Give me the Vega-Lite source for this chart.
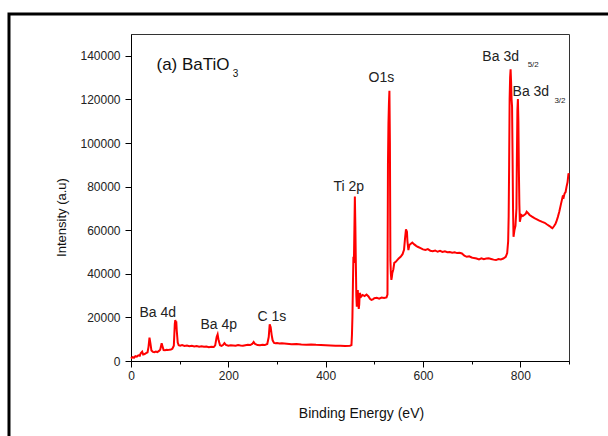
{
  "$schema": "https://vega.github.io/schema/vega-lite/v6.json",
  "width": 438,
  "height": 327,
  "autosize": {"type": "none"},
  "padding": {"left": 131, "top": 34, "right": 39, "bottom": 75},
  "background": "white",
  "config": {
    "font": "Liberation Sans",
    "view": {"stroke": "#333333", "strokeWidth": 1}
  },
  "datasets": {
    "spectrum": [
      {"energy": 0, "intensity": 1200}, {"energy": 3, "intensity": 1800}, {"energy": 6, "intensity": 1500},
      {"energy": 9, "intensity": 2200}, {"energy": 12, "intensity": 2000}, {"energy": 15, "intensity": 2600},
      {"energy": 18, "intensity": 2400}, {"energy": 20, "intensity": 3500}, {"energy": 23, "intensity": 4300},
      {"energy": 25, "intensity": 3000}, {"energy": 28, "intensity": 3200}, {"energy": 31, "intensity": 3600},
      {"energy": 34, "intensity": 4000}, {"energy": 36, "intensity": 6500}, {"energy": 38, "intensity": 10700},
      {"energy": 40, "intensity": 8000}, {"energy": 42, "intensity": 4800}, {"energy": 45, "intensity": 4200},
      {"energy": 48, "intensity": 4000}, {"energy": 51, "intensity": 4300}, {"energy": 54, "intensity": 4100},
      {"energy": 57, "intensity": 4500}, {"energy": 60, "intensity": 5200}, {"energy": 63, "intensity": 8100},
      {"energy": 65, "intensity": 6500}, {"energy": 67, "intensity": 5000}, {"energy": 70, "intensity": 4900},
      {"energy": 73, "intensity": 5100}, {"energy": 76, "intensity": 5000}, {"energy": 79, "intensity": 5200},
      {"energy": 82, "intensity": 5300}, {"energy": 85, "intensity": 5600}, {"energy": 88, "intensity": 7000},
      {"energy": 90, "intensity": 17000}, {"energy": 91, "intensity": 18800}, {"energy": 92, "intensity": 17500},
      {"energy": 93, "intensity": 18200}, {"energy": 94, "intensity": 14000}, {"energy": 96, "intensity": 8500},
      {"energy": 98, "intensity": 7200}, {"energy": 101, "intensity": 7000}, {"energy": 105, "intensity": 7300},
      {"energy": 110, "intensity": 6900}, {"energy": 115, "intensity": 7100}, {"energy": 120, "intensity": 6800},
      {"energy": 125, "intensity": 7000}, {"energy": 130, "intensity": 6700}, {"energy": 135, "intensity": 6900},
      {"energy": 140, "intensity": 6600}, {"energy": 145, "intensity": 6800}, {"energy": 150, "intensity": 6500},
      {"energy": 155, "intensity": 6600}, {"energy": 160, "intensity": 6300}, {"energy": 165, "intensity": 6500},
      {"energy": 170, "intensity": 6400}, {"energy": 173, "intensity": 7200}, {"energy": 176, "intensity": 11000},
      {"energy": 178, "intensity": 12200}, {"energy": 180, "intensity": 9500}, {"energy": 183, "intensity": 7200},
      {"energy": 186, "intensity": 6900}, {"energy": 189, "intensity": 7300}, {"energy": 192, "intensity": 8200},
      {"energy": 195, "intensity": 7400}, {"energy": 200, "intensity": 7000}, {"energy": 205, "intensity": 7200},
      {"energy": 210, "intensity": 7100}, {"energy": 215, "intensity": 7000}, {"energy": 220, "intensity": 7300},
      {"energy": 225, "intensity": 7100}, {"energy": 230, "intensity": 7000}, {"energy": 235, "intensity": 7200},
      {"energy": 240, "intensity": 7400}, {"energy": 245, "intensity": 7300}, {"energy": 249, "intensity": 7800},
      {"energy": 252, "intensity": 8700}, {"energy": 255, "intensity": 7800}, {"energy": 260, "intensity": 7300},
      {"energy": 265, "intensity": 7200}, {"energy": 270, "intensity": 7400}, {"energy": 275, "intensity": 7300},
      {"energy": 280, "intensity": 7800}, {"energy": 283, "intensity": 11000}, {"energy": 285, "intensity": 16800},
      {"energy": 287, "intensity": 15500}, {"energy": 289, "intensity": 12000}, {"energy": 291, "intensity": 9500},
      {"energy": 294, "intensity": 8300}, {"energy": 297, "intensity": 8100}, {"energy": 300, "intensity": 8200},
      {"energy": 305, "intensity": 8000}, {"energy": 310, "intensity": 8100}, {"energy": 320, "intensity": 7900},
      {"energy": 330, "intensity": 7700}, {"energy": 340, "intensity": 7800}, {"energy": 350, "intensity": 7600},
      {"energy": 360, "intensity": 7500}, {"energy": 370, "intensity": 7600}, {"energy": 380, "intensity": 7400},
      {"energy": 390, "intensity": 7300}, {"energy": 400, "intensity": 7200}, {"energy": 410, "intensity": 7100},
      {"energy": 420, "intensity": 7000}, {"energy": 430, "intensity": 7000}, {"energy": 440, "intensity": 6900},
      {"energy": 450, "intensity": 7000}, {"energy": 453, "intensity": 7300}, {"energy": 454, "intensity": 12000},
      {"energy": 455, "intensity": 20300}, {"energy": 456, "intensity": 35000}, {"energy": 457, "intensity": 47800},
      {"energy": 458, "intensity": 45000}, {"energy": 459, "intensity": 60000}, {"energy": 460, "intensity": 75400},
      {"energy": 461, "intensity": 62000}, {"energy": 462, "intensity": 45000}, {"energy": 463, "intensity": 30000},
      {"energy": 464, "intensity": 24900}, {"energy": 465, "intensity": 31800}, {"energy": 466, "intensity": 32600},
      {"energy": 467, "intensity": 27000}, {"energy": 468, "intensity": 23900}, {"energy": 469, "intensity": 26000},
      {"energy": 470, "intensity": 31200}, {"energy": 473, "intensity": 29500}, {"energy": 476, "intensity": 30300},
      {"energy": 480, "intensity": 29800}, {"energy": 484, "intensity": 30500}, {"energy": 488, "intensity": 29600},
      {"energy": 491, "intensity": 28500}, {"energy": 494, "intensity": 28000}, {"energy": 497, "intensity": 28300},
      {"energy": 500, "intensity": 28800}, {"energy": 505, "intensity": 29000}, {"energy": 510, "intensity": 28600},
      {"energy": 515, "intensity": 29100}, {"energy": 520, "intensity": 28900}, {"energy": 525, "intensity": 29200},
      {"energy": 527, "intensity": 30500}, {"energy": 528, "intensity": 90000}, {"energy": 529, "intensity": 109000},
      {"energy": 530, "intensity": 118000}, {"energy": 531, "intensity": 124000}, {"energy": 532, "intensity": 100000},
      {"energy": 533, "intensity": 46300}, {"energy": 534, "intensity": 40000}, {"energy": 535, "intensity": 37200},
      {"energy": 536, "intensity": 38500}, {"energy": 537, "intensity": 40400}, {"energy": 539, "intensity": 42000},
      {"energy": 541, "intensity": 45000}, {"energy": 544, "intensity": 45500}, {"energy": 547, "intensity": 46300},
      {"energy": 550, "intensity": 47000}, {"energy": 554, "intensity": 47800}, {"energy": 558, "intensity": 49000},
      {"energy": 561, "intensity": 51000}, {"energy": 563, "intensity": 56000}, {"energy": 565, "intensity": 60400},
      {"energy": 567, "intensity": 59300}, {"energy": 568, "intensity": 55000}, {"energy": 570, "intensity": 50900},
      {"energy": 572, "intensity": 53200}, {"energy": 575, "intensity": 53800}, {"energy": 578, "intensity": 54300},
      {"energy": 582, "intensity": 53500}, {"energy": 586, "intensity": 52800}, {"energy": 589, "intensity": 52400},
      {"energy": 595, "intensity": 51800}, {"energy": 600, "intensity": 51200}, {"energy": 605, "intensity": 50900},
      {"energy": 610, "intensity": 51300}, {"energy": 615, "intensity": 50600}, {"energy": 620, "intensity": 50400},
      {"energy": 625, "intensity": 50700}, {"energy": 630, "intensity": 50100}, {"energy": 635, "intensity": 50500},
      {"energy": 640, "intensity": 50000}, {"energy": 645, "intensity": 50300}, {"energy": 650, "intensity": 49900},
      {"energy": 655, "intensity": 50000}, {"energy": 660, "intensity": 49700}, {"energy": 665, "intensity": 49900},
      {"energy": 670, "intensity": 49500}, {"energy": 675, "intensity": 49600}, {"energy": 680, "intensity": 49300},
      {"energy": 685, "intensity": 48300}, {"energy": 690, "intensity": 47800}, {"energy": 695, "intensity": 48000},
      {"energy": 700, "intensity": 47500}, {"energy": 705, "intensity": 47200}, {"energy": 710, "intensity": 47000},
      {"energy": 715, "intensity": 46600}, {"energy": 720, "intensity": 47100}, {"energy": 725, "intensity": 46700},
      {"energy": 730, "intensity": 47000}, {"energy": 735, "intensity": 47100}, {"energy": 740, "intensity": 46800},
      {"energy": 745, "intensity": 46500}, {"energy": 750, "intensity": 46300}, {"energy": 755, "intensity": 46800},
      {"energy": 760, "intensity": 46600}, {"energy": 765, "intensity": 47000}, {"energy": 770, "intensity": 47800},
      {"energy": 773, "intensity": 49500}, {"energy": 775, "intensity": 55000}, {"energy": 776, "intensity": 66200},
      {"energy": 777, "intensity": 90000}, {"energy": 778, "intensity": 120000}, {"energy": 779, "intensity": 130000},
      {"energy": 780, "intensity": 133800}, {"energy": 781, "intensity": 128000}, {"energy": 782, "intensity": 120000},
      {"energy": 783, "intensity": 116700}, {"energy": 784, "intensity": 95000}, {"energy": 785, "intensity": 70000},
      {"energy": 786, "intensity": 57000}, {"energy": 788, "intensity": 60100}, {"energy": 790, "intensity": 62000},
      {"energy": 792, "intensity": 70000}, {"energy": 793, "intensity": 95000}, {"energy": 794, "intensity": 115000},
      {"energy": 795, "intensity": 120200}, {"energy": 796, "intensity": 110000}, {"energy": 797, "intensity": 87600},
      {"energy": 798, "intensity": 72000}, {"energy": 799, "intensity": 63900}, {"energy": 800, "intensity": 65000},
      {"energy": 802, "intensity": 67000}, {"energy": 805, "intensity": 66500}, {"energy": 808, "intensity": 67000},
      {"energy": 811, "intensity": 67500}, {"energy": 813, "intensity": 68500}, {"energy": 816, "intensity": 67800},
      {"energy": 819, "intensity": 67000}, {"energy": 824, "intensity": 66200}, {"energy": 829, "intensity": 65500},
      {"energy": 834, "intensity": 65000}, {"energy": 839, "intensity": 64400}, {"energy": 845, "intensity": 63800},
      {"energy": 850, "intensity": 63400}, {"energy": 855, "intensity": 62600}, {"energy": 860, "intensity": 61900},
      {"energy": 864, "intensity": 61200}, {"energy": 866, "intensity": 60900}, {"energy": 869, "intensity": 61800},
      {"energy": 872, "intensity": 62800}, {"energy": 874, "intensity": 63900}, {"energy": 877, "intensity": 66000},
      {"energy": 880, "intensity": 68500}, {"energy": 883, "intensity": 71500}, {"energy": 887, "intensity": 75400},
      {"energy": 889, "intensity": 75000}, {"energy": 891, "intensity": 76900}, {"energy": 893, "intensity": 77500},
      {"energy": 895, "intensity": 80000}, {"energy": 897, "intensity": 82000}, {"energy": 899, "intensity": 86100},
      {"energy": 900, "intensity": 85500}
    ],
    "peaks": [
      {"energy": 17.5, "intensity": 22000, "label": "Ba 4d"},
      {"energy": 142.8, "intensity": 16500, "label": "Ba 4p"},
      {"energy": 260, "intensity": 20200, "label": "C 1s"},
      {"energy": 416, "intensity": 79800, "label": "Ti 2p"},
      {"energy": 488, "intensity": 129800, "label": "O1s"},
      {"energy": 722, "intensity": 139400, "label": "Ba 3d"},
      {"energy": 784, "intensity": 123400, "label": "Ba 3d"}
    ],
    "subscripts": [
      {"energy": 815, "intensity": 135800, "label": "5/2"},
      {"energy": 870, "intensity": 119300, "label": "3/2"}
    ],
    "sample": [
      {"energy": 52.4, "intensity": 135800, "label": "(a) BaTiO"}
    ],
    "sampleSub": [
      {"energy": 209, "intensity": 131600, "label": "3"}
    ]
  },
  "layer": [
    {
      "data": {"name": "spectrum"},
      "mark": {"type": "line", "color": "#ff0000", "strokeWidth": 2},
      "encoding": {
        "x": {
          "field": "energy",
          "type": "quantitative",
          "scale": {"domain": [0, 900], "nice": false, "zero": false},
          "axis": {
            "values": [0, 100, 200, 300, 400, 500, 600, 700, 800, 900],
            "format": "d",
            "labelExpr": "datum.value % 200 === 0 ? datum.label : ''",
            "tickSize": {"condition": {"test": "datum.value % 200 === 0", "value": 6}, "value": 3},
            "labelOverlap": false,
            "labelFlush": false,
            "grid": false,
            "domainColor": "#000000",
            "tickColor": "#000000",
            "labelFontSize": 12,
            "labelColor": "#222222",
            "labelPadding": 3,
            "title": "Binding Energy (eV)",
            "titleFontSize": 14,
            "titleFontWeight": "normal",
            "titleColor": "#111111",
            "titlePadding": 25,
            "titleX": 230
          }
        },
        "y": {
          "field": "intensity",
          "type": "quantitative",
          "scale": {"domain": [0, 150000], "nice": false},
          "axis": {
            "values": [0, 10000, 20000, 30000, 40000, 50000, 60000, 70000, 80000, 90000, 100000, 110000, 120000, 130000, 140000, 150000],
            "format": "d",
            "labelExpr": "datum.value % 20000 === 0 ? datum.label : ''",
            "tickSize": {"condition": {"test": "datum.value % 20000 === 0", "value": 6}, "value": 3},
            "labelOverlap": false,
            "labelFlush": false,
            "grid": false,
            "domainColor": "#000000",
            "tickColor": "#000000",
            "labelFontSize": 12,
            "labelColor": "#222222",
            "labelPadding": 5,
            "title": "Intensity (a.u)",
            "titleFontSize": 13,
            "titleFontWeight": "normal",
            "titleColor": "#111111",
            "titlePadding": 11,
            "titleY": 183
          }
        }
      }
    },
    {
      "data": {"name": "peaks"},
      "mark": {"type": "text", "align": "left", "baseline": "middle", "fontSize": 14, "color": "#222222"},
      "encoding": {
        "x": {"field": "energy", "type": "quantitative"},
        "y": {"field": "intensity", "type": "quantitative"},
        "text": {"field": "label"}
      }
    },
    {
      "data": {"name": "subscripts"},
      "mark": {"type": "text", "align": "left", "baseline": "middle", "fontSize": 8, "color": "#222222"},
      "encoding": {
        "x": {"field": "energy", "type": "quantitative"},
        "y": {"field": "intensity", "type": "quantitative"},
        "text": {"field": "label"}
      }
    },
    {
      "data": {"name": "sample"},
      "mark": {"type": "text", "align": "left", "baseline": "middle", "fontSize": 17, "color": "#111111"},
      "encoding": {
        "x": {"field": "energy", "type": "quantitative"},
        "y": {"field": "intensity", "type": "quantitative"},
        "text": {"field": "label"}
      }
    },
    {
      "data": {"name": "sampleSub"},
      "mark": {"type": "text", "align": "left", "baseline": "middle", "fontSize": 10, "color": "#111111"},
      "encoding": {
        "x": {"field": "energy", "type": "quantitative"},
        "y": {"field": "intensity", "type": "quantitative"},
        "text": {"field": "label"}
      }
    },
    {
      "data": {"values": [{}]},
      "mark": {"type": "rect", "fill": null, "stroke": "#000000", "strokeWidth": 3, "clip": false},
      "encoding": {
        "x": {"datum": -250.7},
        "x2": {"datum": 1000},
        "y": {"datum": 159170},
        "y2": {"datum": -40000}
      }
    }
  ]
}
